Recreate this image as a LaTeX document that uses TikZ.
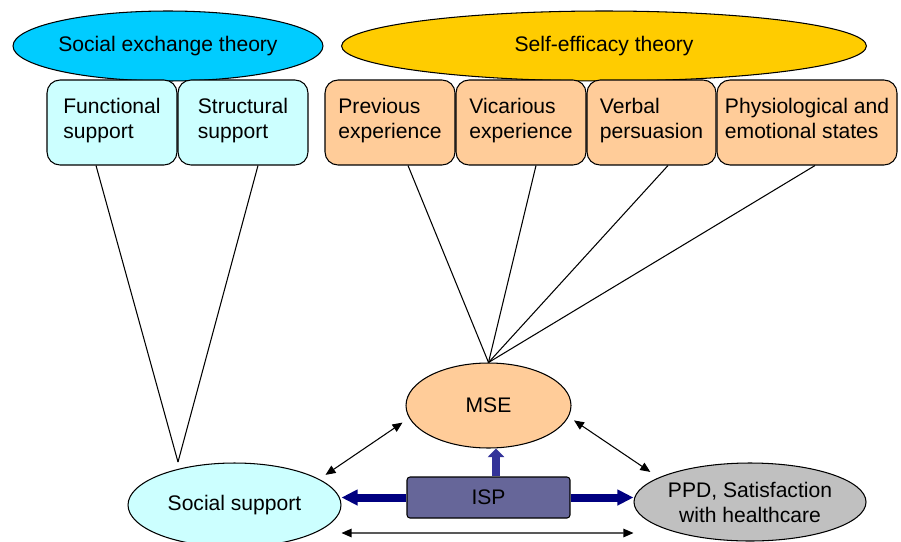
\documentclass[tikz,border=0pt]{standalone}
\usepackage{fontspec}
\setmainfont{Liberation Sans}
\usetikzlibrary{arrows.meta,shapes.geometric}
\definecolor{sxtblue}{HTML}{00CCFF}
\definecolor{setyellow}{HTML}{FFCC00}
\definecolor{lightcyan}{HTML}{CCFFFF}
\definecolor{peach}{HTML}{FFCC99}
\definecolor{ispblue}{HTML}{666699}
\definecolor{ppdgrey}{HTML}{C0C0C0}
\definecolor{navyblue}{HTML}{000080}
\definecolor{upblue}{HTML}{333399}
\begin{document}
\begin{tikzpicture}[x=0.02cm,y=-0.02cm,
    every node/.style={font=\fontsize{12}{14.2}\selectfont},
    theory/.style={ellipse,draw,line width=0.6pt,inner sep=0pt,minimum height=1.4cm},
    factor/.style={draw,line width=0.6pt,rounded corners=0.26cm,inner sep=0pt,
      minimum width=2.6cm,minimum height=1.7cm,align=left,text depth=4.5pt},
    outcome/.style={ellipse,draw,line width=0.6pt,inner sep=0pt},
    bigarrow/.style={-{Triangle[length=0.32cm,width=0.3cm]},line width=0.16cm,draw=navyblue,fill=navyblue},
    uparrow/.style={-{Triangle[length=0.17cm,width=0.32cm]},line width=0.16cm,draw=upblue,fill=upblue},
    thinarrow/.style={{Triangle[length=0.2cm,width=0.17cm]}-{Triangle[length=0.2cm,width=0.17cm]},line width=0.6pt}]
  \useasboundingbox (0,0) rectangle (901,541);
  \node[theory,fill=sxtblue,minimum width=6.2cm] (sxt) at (168,46) {Social exchange theory};
  \node[theory,fill=setyellow,minimum width=10.5cm] (set) at (604,46) {Self-efficacy theory};
  \node[factor,fill=lightcyan] (func) at (112,122.5) {Functional\\support};
  \node[factor,fill=lightcyan] (struc) at (243,122.5) {Structural\\support};
  \node[factor,fill=peach] (prev) at (390,122.5) {Previous\\experience};
  \node[factor,fill=peach] (vic) at (521,122.5) {Vicarious\\experience};
  \node[factor,fill=peach,minimum width=2.58cm] (verb) at (651.5,122.5) {Verbal\\persuasion};
  \node[factor,fill=peach,minimum width=3.6cm] (phys) at (807,122.5) {Physiological and\\emotional states};
  \node[outcome,fill=peach,minimum width=3.3cm,minimum height=1.7cm] (mse) at (488.5,405.5) {MSE};
  \node[outcome,fill=lightcyan,minimum width=4.26cm,minimum height=1.68cm] (soc) at (234.5,505) {Social support};
  \node[outcome,fill=ppdgrey,minimum width=4.6cm,minimum height=1.56cm,align=center] (ppd) at (750,502) {PPD, Satisfaction\\with healthcare};
  \node[draw,line width=0.6pt,fill=ispblue,rounded corners=0.06cm,minimum width=3.26cm,minimum height=0.82cm] (isp) at (488.5,497.5) {ISP};
  \coordinate (socapex) at (178,462);
  \begin{scope}[line width=0.6pt]
    \draw ([xshift=-0.32cm]func.south) -- (socapex);
    \draw ([xshift=0.3cm]struc.south) -- (socapex);
    \draw ([xshift=0.36cm]prev.south) -- (mse.north);
    \draw ([xshift=0.3cm]vic.south) -- (mse.north);
    \draw ([xshift=0.33cm]verb.south) -- (mse.north);
    \draw ([xshift=0.16cm]phys.south) -- (mse.north);
  \end{scope}
  \draw[thinarrow,shorten <=0.16cm,shorten >=0.15cm] (mse.189) -- (soc.17);
  \draw[thinarrow,shorten <=0.13cm,shorten >=0.2cm] (mse.-8.5) -- (ppd.165.6);
  \draw[thinarrow] ([yshift=-0.56cm]soc.east) -- ([yshift=-0.62cm]ppd.west);
  \draw[bigarrow] (isp.west) -- (isp.west -| soc.east);
  \draw[bigarrow] (isp.east) -- (isp.east -| ppd.west);
  \draw[uparrow] ([xshift=0.15cm]isp.north) -- ([xshift=0.15cm]isp.north |- mse.south);
\end{tikzpicture}
\end{document}
